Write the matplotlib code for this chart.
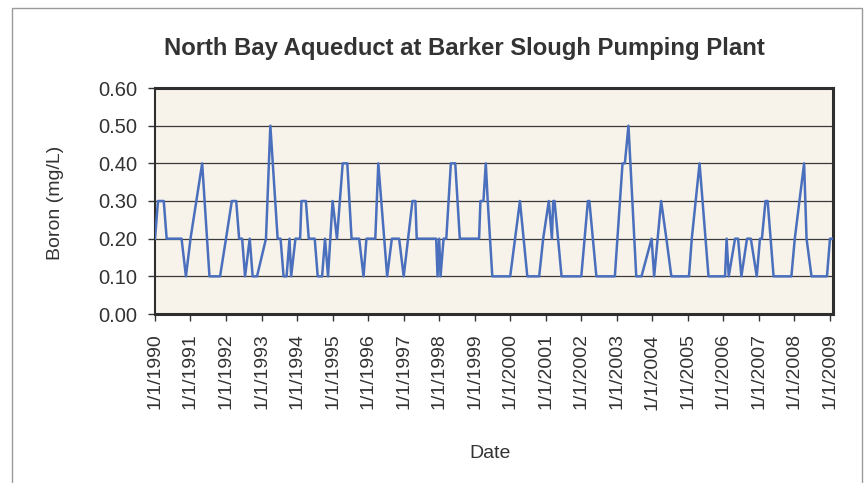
import matplotlib
matplotlib.use("Agg")
import matplotlib.pyplot as plt
from matplotlib.patches import Rectangle
import pandas as pd

# boron readings (vertices of the line)
dates = [
    "1990-01-01", "1990-02-01", "1990-04-01", "1990-05-01", "1990-10-01", "1990-11-15",
    "1991-01-01", "1991-05-01", "1991-07-15", "1991-11-01",
    "1992-01-01", "1992-03-01", "1992-04-15", "1992-05-15", "1992-06-15", "1992-07-15",
    "1992-09-01", "1992-10-01", "1992-11-15",
    "1993-02-15", "1993-04-01", "1993-06-15", "1993-07-15", "1993-08-15", "1993-09-15",
    "1993-10-15", "1993-11-01", "1993-12-15",
    "1994-02-01", "1994-02-15", "1994-04-01", "1994-05-01", "1994-07-01", "1994-08-01",
    "1994-09-15", "1994-10-15", "1994-11-15",
    "1995-01-01", "1995-02-15", "1995-04-15", "1995-06-01", "1995-07-15", "1995-10-01",
    "1995-11-15", "1995-12-15",
    "1996-03-15", "1996-04-15", "1996-07-15", "1996-09-01", "1996-11-15",
    "1997-01-01", "1997-02-15", "1997-04-01", "1997-05-01", "1997-05-15", "1997-12-01",
    "1997-12-15",
    "1998-01-01", "1998-01-15", "1998-02-15", "1998-03-15", "1998-05-01", "1998-06-15",
    "1998-08-01",
    "1999-02-15", "1999-03-01", "1999-04-01", "1999-04-25", "1999-05-15", "1999-07-01",
    "2000-01-01", "2000-04-10", "2000-06-25", "2000-10-25", "2000-12-05",
    "2001-02-01", "2001-03-05", "2001-03-18", "2001-04-01", "2001-06-12",
    "2002-01-01", "2002-03-10", "2002-03-25", "2002-06-05", "2002-12-12",
    "2003-03-01", "2003-03-25", "2003-05-01", "2003-07-20", "2003-09-12", "2003-12-25",
    "2004-01-20", "2004-04-01", "2004-05-25", "2004-07-15",
    "2005-01-12", "2005-02-10", "2005-05-01", "2005-08-01",
    "2006-01-18", "2006-02-03", "2006-02-25", "2006-05-01", "2006-06-01", "2006-07-05",
    "2006-09-01", "2006-10-10", "2006-12-10",
    "2007-01-12", "2007-02-01", "2007-03-10", "2007-04-01", "2007-06-01", "2007-12-01",
    "2008-01-05", "2008-04-10", "2008-05-05", "2008-06-25", "2008-12-01",
    "2009-01-01", "2009-02-01",
]
boron = [
    0.2, 0.3, 0.3, 0.2, 0.2, 0.1,
    0.2, 0.4, 0.1, 0.1,
    0.2, 0.3, 0.3, 0.2, 0.2, 0.1,
    0.2, 0.1, 0.1,
    0.2, 0.5, 0.2, 0.2, 0.1, 0.1,
    0.2, 0.1, 0.2,
    0.2, 0.3, 0.3, 0.2, 0.2, 0.1,
    0.1, 0.2, 0.1,
    0.3, 0.2, 0.4, 0.4, 0.2, 0.2,
    0.1, 0.2,
    0.2, 0.4, 0.1, 0.2, 0.2,
    0.1, 0.2, 0.3, 0.3, 0.2, 0.2,
    0.1,
    0.2, 0.1, 0.2, 0.2, 0.4, 0.4,
    0.2,
    0.2, 0.3, 0.3, 0.4, 0.3, 0.1,
    0.1, 0.3, 0.1, 0.1, 0.2,
    0.3, 0.2, 0.3, 0.3, 0.1,
    0.1, 0.3, 0.3, 0.1, 0.1,
    0.4, 0.4, 0.5, 0.1, 0.1, 0.2,
    0.1, 0.3, 0.2, 0.1,
    0.1, 0.2, 0.4, 0.1,
    0.1, 0.2, 0.1, 0.2, 0.2, 0.1,
    0.2, 0.2, 0.1,
    0.2, 0.2, 0.3, 0.3, 0.1, 0.1,
    0.2, 0.4, 0.2, 0.1, 0.1,
    0.2, 0.2,
]
years = list(range(1990, 2010))
yticks = [0.0, 0.1, 0.2, 0.3, 0.4, 0.5, 0.6]

plt.rcParams['font.family'] = ['Liberation Sans', 'DejaVu Sans']

W, H = 868, 483
fig = plt.figure(figsize=(W / 100, H / 100), dpi=100)
fig.patch.set_facecolor('white')

# light frame around the chart
fig.patches.append(Rectangle((12 / W, -0.05), (862 - 12) / W, 1.05 - 8 / H,
                             transform=fig.transFigure, fill=False,
                             edgecolor='#9a9a9a', lw=1.0))

ax = fig.add_axes([155 / W, 1 - 314 / H, (833 - 155) / W, (314 - 88) / H])
ax.set_facecolor('#f7f2ea')

x = pd.to_datetime(dates)
ax.plot(x, boron, color='#4a6fbd', lw=1.8, zorder=3)

ax.set_ylim(0, 0.6)
ax.set_yticks(yticks)
ax.set_yticklabels(["%.2f" % v for v in yticks])
ax.yaxis.grid(True, color='#3a3a3a', lw=0.9)
ax.set_axisbelow(True)

ticks = [pd.Timestamp(year=y, month=1, day=1) for y in years]
ax.set_xlim(pd.Timestamp("1990-01-01"), pd.Timestamp("2009-02-01"))
ax.set_xticks(ticks)
ax.set_xticklabels(["1/1/%d" % y for y in years], rotation=90)

ax.tick_params(axis='both', labelsize=14, colors='#333333', direction='out',
               length=5, width=1)
ax.tick_params(axis='x', pad=9)
ax.tick_params(axis='y', labelsize=14.5, pad=8)

for side in ['top', 'right', 'bottom']:
    ax.spines[side].set_linewidth(2.2)
    ax.spines[side].set_color('#2e2e2e')
ax.spines['left'].set_linewidth(1.5)
ax.spines['left'].set_color('#2e2e2e')

ax.set_ylabel("Boron (mg/L)", fontsize=14, color='#333333')
ax.yaxis.set_label_coords(-0.134, 0.49)
ax.set_xlabel("Date", fontsize=14, color='#333333')
ax.xaxis.set_label_coords(0.494, -0.58)

fig.text(464 / W, 1 - 48 / H, "North Bay Aqueduct at Barker Slough Pumping Plant",
         ha='center', va='center', fontsize=17.2, fontweight='bold', color='#333333')

fig.savefig("out.png", dpi=100)
